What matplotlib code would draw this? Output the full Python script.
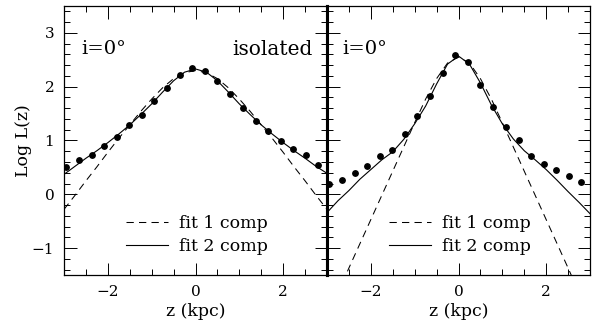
import matplotlib
matplotlib.use("Agg")
import matplotlib.pyplot as plt
from matplotlib.lines import Line2D
from matplotlib.ticker import MultipleLocator

# ---- data ----
z_pts = [-2.96, -2.66, -2.37, -2.09, -1.80, -1.51, -1.22, -0.94, -0.65, -0.36, -0.08,
         0.22, 0.50, 0.79, 1.08, 1.37, 1.65, 1.94, 2.22, 2.51, 2.80]
left_pts = [0.51, 0.63, 0.73, 0.89, 1.07, 1.29, 1.48, 1.73, 1.97, 2.22, 2.35,
            2.29, 2.10, 1.86, 1.60, 1.37, 1.18, 0.99, 0.84, 0.73, 0.55]
right_pts = [0.20, 0.26, 0.39, 0.52, 0.72, 0.83, 1.13, 1.45, 1.82, 2.25, 2.59,
             2.45, 2.03, 1.62, 1.26, 1.00, 0.72, 0.57, 0.46, 0.34, 0.22]

z_fit = [-3.0, -2.75, -2.5, -2.25, -2.0, -1.75, -1.5, -1.25, -1.0, -0.75, -0.5, -0.25, 0.0,
         0.25, 0.5, 0.75, 1.0, 1.25, 1.5, 1.75, 2.0, 2.25, 2.5, 2.75, 3.0]
left_fit1 = [-0.28, -0.02, 0.25, 0.51, 0.78, 1.04, 1.29, 1.54, 1.77, 1.98, 2.15, 2.26, 2.30,
             2.26, 2.15, 1.98, 1.77, 1.54, 1.29, 1.04, 0.78, 0.51, 0.25, -0.02, -0.28]
left_fit2 = [0.37, 0.52, 0.67, 0.81, 0.96, 1.12, 1.29, 1.48, 1.68, 1.90, 2.11, 2.27, 2.33,
             2.27, 2.11, 1.90, 1.68, 1.48, 1.29, 1.12, 0.96, 0.81, 0.67, 0.52, 0.39]
right_fit1 = [-2.28, -1.83, -1.37, -0.92, -0.47, -0.02, 0.43, 0.88, 1.33, 1.77, 2.15, 2.44, 2.55,
              2.44, 2.15, 1.77, 1.33, 0.88, 0.43, -0.02, -0.47, -0.92, -1.37, -1.83, -2.28]
right_fit2 = [-0.34, -0.12, 0.07, 0.28, 0.46, 0.64, 0.79, 1.02, 1.31, 1.64, 2.05, 2.42, 2.57,
              2.42, 2.07, 1.66, 1.31, 1.03, 0.81, 0.64, 0.46, 0.26, 0.05, -0.15, -0.36]

legend_labels = ["fit 1 comp", "fit 2 comp"]
panel_left_text = ["i=0°", "isolated"]
panel_right_text = ["i=0°"]
xlabel = "z (kpc)"
ylabel = "Log L(z)"

plt.rcParams['font.family'] = ['DejaVu Serif']
plt.rcParams['mathtext.fontset'] = 'dejavuserif'

fig = plt.figure(figsize=(5.93, 3.27), dpi=100)
ax1 = fig.add_axes([64/593, 1-275/327, 263/593, 269/327])
ax2 = fig.add_axes([327/593, 1-275/327, 263/593, 269/327])

dash = (0, (7, 5))
for ax, pts, f1, f2 in [(ax1, left_pts, left_fit1, left_fit2),
                        (ax2, right_pts, right_fit1, right_fit2)]:
    ax.plot(z_fit, f1, color='black', lw=0.75, linestyle=dash)
    ax.plot(z_fit, f2, color='black', lw=0.8)
    ax.plot(z_pts, pts, 'o', color='black', ms=3.9, mec='black')
    ax.set_xlim(-3, 3)
    ax.set_ylim(-1.5, 3.5)
    ax.xaxis.set_major_locator(MultipleLocator(2))
    ax.xaxis.set_minor_locator(MultipleLocator(0.5))
    ax.yaxis.set_major_locator(MultipleLocator(1))
    ax.yaxis.set_minor_locator(MultipleLocator(0.2))
    ax.tick_params(which='both', direction='in', top=True, right=True, width=0.7)
    ax.tick_params(which='major', length=9, labelsize=11, pad=7)
    ax.tick_params(which='minor', length=4.5)
    for s in ax.spines.values():
        s.set_linewidth(0.9)
    ax.set_xlabel(xlabel, fontsize=12.5, labelpad=3)
    handles = [Line2D([], [], color='black', lw=0.75, linestyle=dash),
               Line2D([], [], color='black', lw=0.8)]
    ax.legend(handles, legend_labels, loc='center left', bbox_to_anchor=(0.237, 0.15),
              frameon=False, fontsize=12.5, handlelength=2.4, handletextpad=0.65,
              labelspacing=0.35, borderpad=0, borderaxespad=0)

ax1.spines['right'].set_linewidth(2.2)
ax2.spines['left'].set_linewidth(2.2)
ax2.tick_params(labelleft=False)
ax1.set_ylabel(ylabel, fontsize=12.5, labelpad=0)

ax1.text(0.065, 0.84, panel_left_text[0], transform=ax1.transAxes, fontsize=14, va='center')
ax1.text(0.945, 0.84, panel_left_text[1], transform=ax1.transAxes, fontsize=14.5,
         va='center', ha='right')
ax2.text(0.06, 0.84, panel_right_text[0], transform=ax2.transAxes, fontsize=14, va='center')

fig.savefig("out.png", dpi=100)
